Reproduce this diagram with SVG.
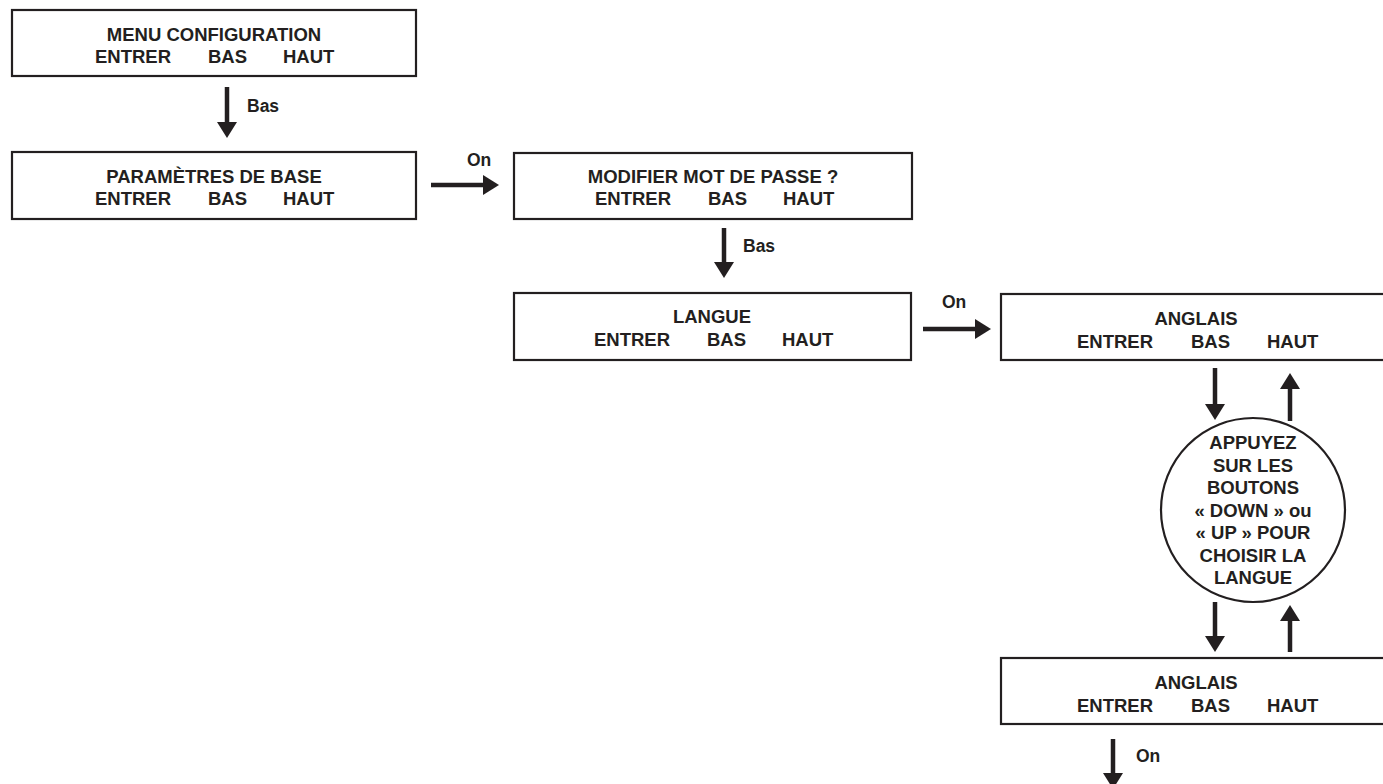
<svg xmlns="http://www.w3.org/2000/svg" width="1383" height="784" viewBox="0 0 1383 784">
<style>
.box{fill:#fff;stroke:#231f20;stroke-width:2.2}
.t{font-family:"Liberation Sans",Arial,Helvetica,sans-serif;font-weight:bold;font-size:18.5px;fill:#231f20}
.c{text-anchor:middle}
.lbl{font-family:"Liberation Sans",Arial,Helvetica,sans-serif;font-weight:bold;font-size:17.5px;fill:#231f20}
.conn{stroke:#231f20;stroke-width:4.5;fill:none;marker-end:url(#ah)}
</style>
<defs>
<marker id="ah" viewBox="0 0 16 20" refX="1" refY="10" markerWidth="16" markerHeight="20" markerUnits="userSpaceOnUse" orient="auto">
<path d="M0,0 L16,10 L0,20 Z" fill="#231f20"/>
</marker>
</defs>
<rect width="1383" height="784" fill="#fff"/>

<g id="menu-configuration">
<rect class="box" x="12" y="10" width="404" height="66"/>
<text class="t c" x="214" y="41">MENU CONFIGURATION</text>
<text class="t" x="95" y="63">ENTRER</text>
<text class="t" x="208" y="63">BAS</text>
<text class="t" x="283" y="63">HAUT</text>
</g>

<g id="parametres-de-base">
<rect class="box" x="12" y="152" width="404" height="67"/>
<text class="t c" x="214" y="183">PARAMÈTRES DE BASE</text>
<text class="t" x="95" y="205">ENTRER</text>
<text class="t" x="208" y="205">BAS</text>
<text class="t" x="283" y="205">HAUT</text>
</g>

<g id="modifier-mot-de-passe">
<rect class="box" x="514" y="153" width="398" height="66"/>
<text class="t c" x="713" y="183">MODIFIER MOT DE PASSE ?</text>
<text class="t" x="595" y="205">ENTRER</text>
<text class="t" x="708" y="205">BAS</text>
<text class="t" x="783" y="205">HAUT</text>
</g>

<g id="langue">
<rect class="box" x="514" y="293" width="397" height="67"/>
<text class="t c" x="712" y="323">LANGUE</text>
<text class="t" x="594" y="346">ENTRER</text>
<text class="t" x="707" y="346">BAS</text>
<text class="t" x="782" y="346">HAUT</text>
</g>

<g id="anglais-1">
<rect class="box" x="1001" y="294" width="392" height="66"/>
<text class="t c" x="1196" y="325">ANGLAIS</text>
<text class="t" x="1077" y="348">ENTRER</text>
<text class="t" x="1191" y="348">BAS</text>
<text class="t" x="1267" y="348">HAUT</text>
</g>

<g id="instruction">
<circle cx="1253" cy="510" r="92" fill="#fff" stroke="#231f20" stroke-width="2.2"/>
<text class="t c" x="1253" y="449">APPUYEZ</text>
<text class="t c" x="1253" y="471.5">SUR LES</text>
<text class="t c" x="1253" y="494">BOUTONS</text>
<text class="t c" x="1253" y="516.5">« DOWN » ou</text>
<text class="t c" x="1253" y="539">« UP » POUR</text>
<text class="t c" x="1253" y="561.5">CHOISIR LA</text>
<text class="t c" x="1253" y="584">LANGUE</text>
</g>

<g id="anglais-2">
<rect class="box" x="1001" y="658" width="392" height="66"/>
<text class="t c" x="1196" y="689">ANGLAIS</text>
<text class="t" x="1077" y="712">ENTRER</text>
<text class="t" x="1191" y="712">BAS</text>
<text class="t" x="1267" y="712">HAUT</text>
</g>

<g id="connectors">
<line class="conn" x1="227" y1="87" x2="227" y2="123"/>
<text class="lbl" x="247" y="112">Bas</text>
<line class="conn" x1="431" y1="185" x2="484" y2="185"/>
<text class="lbl" x="467" y="166">On</text>
<line class="conn" x1="724" y1="228" x2="724" y2="263"/>
<text class="lbl" x="743" y="252">Bas</text>
<line class="conn" x1="923" y1="329" x2="976" y2="329"/>
<text class="lbl" x="942" y="308">On</text>
<line class="conn" x1="1215" y1="368" x2="1215" y2="405"/>
<line class="conn" x1="1290" y1="421" x2="1290" y2="388"/>
<line class="conn" x1="1215" y1="602" x2="1215" y2="637"/>
<line class="conn" x1="1290" y1="652" x2="1290" y2="620"/>
<line class="conn" x1="1113" y1="739" x2="1113" y2="774"/>
<text class="lbl" x="1136" y="762">On</text>
</g>
</svg>
